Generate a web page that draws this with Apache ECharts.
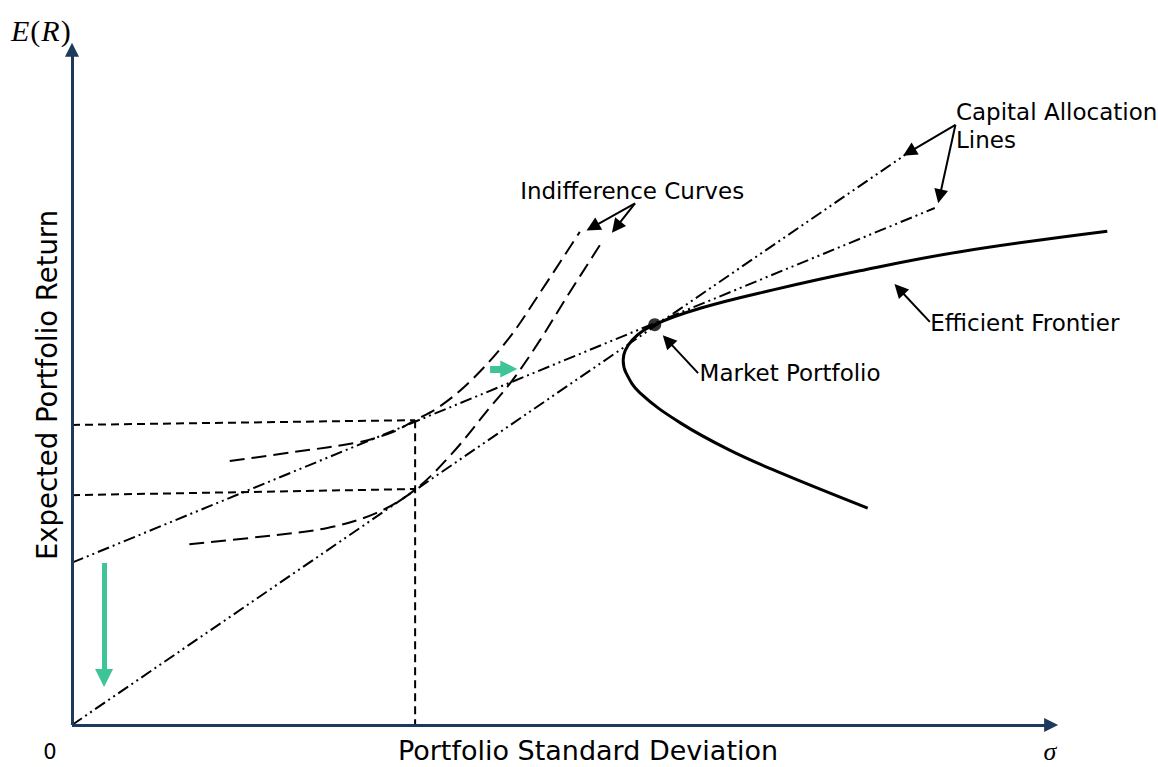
<!DOCTYPE html>
<html><head><meta charset="utf-8">
<script src="https://cdn.jsdelivr.net/npm/echarts@6/dist/echarts.min.js"></script>
<style>html,body{margin:0;padding:0;background:#fff}#c{width:1158px;height:767px}</style>
</head><body><div id="c"></div>
<script>
// ---- data (chart units: x 0..100 = sigma axis length, y 0..100 = E(R) axis length) ----
const xTitle = 'Portfolio Standard Deviation';
const yTitle = 'Expected Portfolio Return';
const originLabel = '0';
const xAxisArrow = [[0, 0], [99.3, 0]];
const yAxisArrow = [[0, 0], [0, 99.0]];
const marketPortfolio = [[59.1, 58.7]];
const calSteep = [[0, 0], [84.5, 83.6]];
const calFlat = [[0, 23.8], [87.5, 75.8]];
const frontier = [[80.7, 31.8], [71.8, 37.0], [66.7, 40.3], [61.7, 44.3], [57.6, 48.7], [56.2, 51.6], [55.9, 53.5], [56.8, 56.4], [59.1, 58.7], [63.7, 61.1], [71.1, 63.8], [79.9, 66.6], [90.1, 69.4], [105.0, 72.4]];
const icUpper = [[16.0, 38.7], [22.4, 40.0], [29.2, 41.5], [32.6, 43.0], [34.8, 44.7], [37.2, 46.6], [40.4, 50.4], [44.2, 56.5], [47.2, 62.8], [51.5, 72.3]];
const icLower = [[11.9, 26.5], [19.1, 27.6], [25.9, 28.9], [30.9, 31.1], [34.8, 34.5], [38.6, 39.9], [42.4, 46.6], [44.7, 50.6], [47.5, 56.5], [50.2, 62.8], [53.6, 70.5]];
const guideUpper = [[0, 44.0], [34.8, 44.7]];
const guideLower = [[0, 33.7], [34.8, 34.6]];
const guideVertical = [[34.8, 44.7], [34.8, 0]];
const annotationTexts = ['Capital Allocation\nLines', 'Indifference Curves', 'Efficient Frontier', 'Market Portfolio'];
const annotationAnchors = [[89.6, 87.8], [45.4, 78.3], [87.0, 58.9], [63.6, 51.6]];
const annotationArrows = [
  [[89.6, 88.0], [84.9, 84.0]],
  [[89.6, 88.0], [88.0, 77.5]],
  [[57.1, 76.5], [52.8, 73.0]],
  [[57.1, 76.5], [55.2, 73.0]],
  [[87.0, 59.1], [83.9, 63.9]],
  [[63.5, 51.6], [60.4, 56.4]]
];
const greenDown = [[3.25, 23.75], [3.25, 6.9]];
const greenRight = [[42.4, 52.2], [44.3, 52.2]];

const AXIS = '#1c3a5c';
const GREEN = '#3fc497';
const FONT = '"DejaVu Sans", Verdana, sans-serif';
const SERIF = '"Liberation Serif", "DejaVu Serif", serif';

const chart = echarts.init(document.getElementById('c'), null, {renderer: 'svg'});

function lineSeries(name, data, type, width, smooth) {
  return {
    name, type: 'line', data, showSymbol: false, symbol: 'none', smooth: smooth || false,
    clip: false, silent: true,
    lineStyle: {color: '#000', width, type}
  };
}
function arrowSeries(name, segs, color, width, size, z) {
  return {
    name, type: 'lines', coordinateSystem: 'cartesian2d', silent: true, clip: false, z: z || 2,
    data: segs.map(c => ({coords: c})),
    symbol: ['none', 'triangle'], symbolSize: size,
    itemStyle: {color},
    lineStyle: {color, width, opacity: 1, curveness: 0}
  };
}

const cal = [12, 4, 2, 4, 2, 4];
const icDash = [15, 7];
const guide = [8, 5];

chart.setOption({
  animation: false,
  backgroundColor: '#fff',
  grid: {left: 72, right: 1.4, top: 43, bottom: 42, containLabel: false},
  xAxis: {
    type: 'value', min: 0, max: 110, show: true,
    axisLine: {show: false}, axisTick: {show: false}, axisLabel: {show: false}, splitLine: {show: false}
  },
  yAxis: {
    type: 'value', min: 0, max: 100, show: true,
    axisLine: {show: false}, axisTick: {show: false}, axisLabel: {show: false}, splitLine: {show: false}
  },
  series: [
    lineSeries('guideUpper', guideUpper, guide, 2),
    lineSeries('guideLower', guideLower, guide, 2),
    lineSeries('guideVertical', guideVertical, guide, 2),
    lineSeries('CAL steep', calSteep, cal, 2),
    lineSeries('CAL flat', calFlat, cal, 2),
    lineSeries('IC upper', icUpper, icDash, 2, 0.35),
    lineSeries('IC lower', icLower, icDash, 2, 0.35),
    lineSeries('Efficient Frontier', frontier, 'solid', 3, 0.4),
    arrowSeries('xAxisLine', [xAxisArrow], AXIS, 3, [13, 14], 6),
    arrowSeries('yAxisLine', [yAxisArrow], AXIS, 3, [13, 14], 6),
    {
      name: 'Market Portfolio', type: 'scatter', data: marketPortfolio, symbolSize: 13,
      itemStyle: {color: '#000'}, silent: true, z: 5
    },
    arrowSeries('annotArrows', annotationArrows, '#000', 2, [11, 14]),
    arrowSeries('greenDown', [greenDown], GREEN, 5, [17, 18]),
    arrowSeries('greenRight', [greenRight], GREEN, 7, [18, 17]),
    {
      name: 'annotations', type: 'scatter', silent: true, symbolSize: 1,
      itemStyle: {color: 'rgba(0,0,0,0)'},
      data: annotationAnchors.map((p, i) => ({value: p, name: annotationTexts[i]})),
      label: {
        show: true, position: 'right', distance: 0, formatter: p => p.name, opacity: 1,
        fontFamily: FONT, fontSize: 23, color: '#000', lineHeight: 28, align: 'left', verticalAlign: 'middle'
      }
    }
  ],
  graphic: [
    {type: 'text', x: 588, y: 750, style: {text: xTitle, font: '27px ' + FONT, fill: '#000', align: 'center', verticalAlign: 'middle', lineHeight: 28}},
    {type: 'text', x: 47, y: 385, rotation: Math.PI / 2, style: {text: yTitle, font: '27.5px ' + FONT, fill: '#000', align: 'center', verticalAlign: 'middle'}},
    {type: 'text', x: 50, y: 752, style: {text: originLabel, font: '21px ' + FONT, fill: '#000', align: 'center', verticalAlign: 'middle'}},
    {type: 'text', x: 1050, y: 751, style: {text: 'σ', font: 'italic 26px ' + SERIF, fill: '#000', align: 'center', verticalAlign: 'middle'}},
    {type: 'text', x: 11, y: 30, style: {
      text: '{i|E}{n|(}{i|R}{n|)}', verticalAlign: 'middle', align: 'left',
      rich: {
        i: {font: 'italic 30px ' + SERIF, fill: '#000'},
        n: {font: '30px ' + SERIF, fill: '#000', padding: [0, 1, 0, 1]}
      }
    }}
  ]
});
</script></body></html>
